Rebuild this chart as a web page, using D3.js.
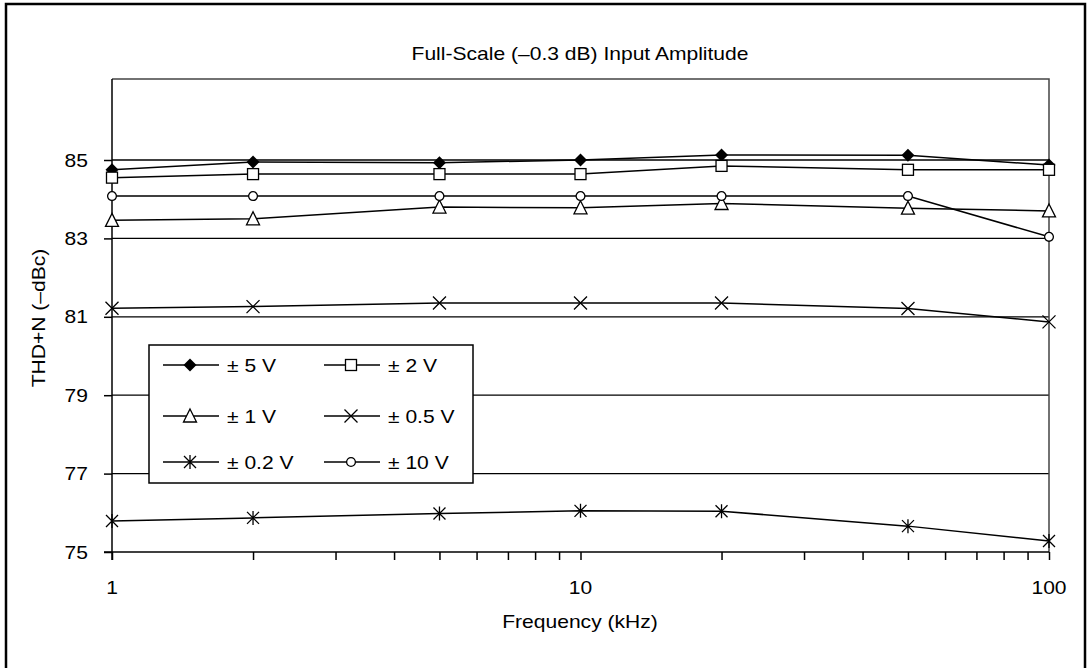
<!DOCTYPE html>
<html><head><meta charset="utf-8">
<script src="https://cdn.jsdelivr.net/npm/d3@7/dist/d3.min.js"></script>
<style>body{margin:0;background:#fff;}svg{display:block;font-family:"Liberation Sans",Arial,sans-serif;}</style>
</head><body><svg id="c" width="1088" height="668"></svg>
<script>
const freqs = [1, 2, 5, 10, 20, 50, 100];
const v5   = [84.75, 84.95, 84.93, 85.0, 85.13, 85.12, 84.87];
const v2   = [84.55, 84.64, 84.64, 84.64, 84.85, 84.75, 84.75];
const v1   = [83.46, 83.5, 83.8, 83.78, 83.89, 83.77, 83.7];
const v05  = [81.22, 81.26, 81.35, 81.35, 81.35, 81.21, 80.87];
const v02  = [75.79, 75.87, 75.98, 76.05, 76.04, 75.66, 75.28];
const v10  = [84.08, 84.08, 84.08, 84.08, 84.08, 84.08, 83.04];
const seriesNames = ["± 5 V", "± 2 V", "± 1 V", "± 0.5 V", "± 0.2 V", "± 10 V"];
const seriesValues = [v5, v2, v1, v05, v02, v10];
const seriesMarkers = ["diamond", "square", "triangle", "x", "asterisk", "circle"];
const yTicks = [75, 77, 79, 81, 83, 85];
const xTickLabels = [1, 10, 100];
const title = "Full-Scale (–0.3 dB) Input Amplitude";
const xTitle = "Frequency (kHz)";
const yTitle = "THD+N (–dBc)";

const svg = d3.select("#c");
const L = 112, R = 1049, T = 79, B = 552;
const SX = 1.17, FS = 18;
const x = d3.scaleLog().domain([1, 100]).range([L, R]);
const y = d3.scaleLinear().domain([75, 85]).range([552, 160]);

function label(px, py, txt, anchor, rot) {
  svg.append("text")
    .attr("transform", `translate(${px},${py})${rot ? " rotate(" + rot + ")" : ""} scale(${SX},1)`)
    .attr("text-anchor", anchor).attr("font-size", FS).attr("fill", "#000").text(txt);
}

// outer frame
svg.append("rect").attr("x", 6).attr("y", 4).attr("width", 1079).attr("height", 672)
  .attr("fill", "none").attr("stroke", "#000").attr("stroke-width", 2.5);

// gridlines
svg.append("g").selectAll("line").data(yTicks.filter(d => d > 75)).join("line")
  .attr("x1", L).attr("x2", R).attr("y1", d => y(d)).attr("y2", d => y(d))
  .attr("stroke", "#000").attr("stroke-width", 1.3);

// plot frame (top/right)
svg.append("path").attr("d", `M${L},${T}H${R}V${B}`).attr("fill", "none")
  .attr("stroke", "#444").attr("stroke-width", 1.5);

// x axis
const xAxis = d3.axisBottom(x).tickValues(d3.range(1,10).concat(d3.range(10,100,10)).concat([100]))
  .tickSize(8).tickFormat("");
const gx = svg.append("g").attr("transform", `translate(0,${B})`).call(xAxis);
gx.select(".domain").attr("d", `M${L-8},0H${R}`).attr("stroke-width", 1.5);
gx.selectAll(".tick line").attr("stroke-width", 1.5);
xTickLabels.forEach(d => label(x(d), 594, d, "middle"));

// y axis
const yAxis = d3.axisLeft(y).tickValues(yTicks).tickSize(8).tickFormat("");
const gy = svg.append("g").attr("transform", `translate(${L},0)`).call(yAxis);
gy.select(".domain").attr("d", `M0,${T}V${B + 8}`).attr("stroke-width", 1.5);
gy.selectAll(".tick line").attr("stroke-width", 1.5);
yTicks.forEach(d => label(88, y(d) + 6.5, d, "end"));

// titles
label(580, 60, title, "middle");
label(580, 628, xTitle, "middle");
label(45, 318, yTitle, "middle", -90);

function drawMarker(g, type) {
  const s = "#000";
  switch (type) {
    case "diamond":
      g.append("path").attr("d", "M0,-6.5L6.5,0L0,6.5L-6.5,0Z").attr("fill", s); break;
    case "square":
      g.append("rect").attr("x", -5.5).attr("y", -5.5).attr("width", 11).attr("height", 11)
        .attr("fill", "#fff").attr("stroke", s).attr("stroke-width", 1.3); break;
    case "triangle":
      g.append("path").attr("d", "M0,-7L6.5,6L-6.5,6Z").attr("fill", "#fff").attr("stroke", s).attr("stroke-width", 1.3); break;
    case "x":
      g.append("path").attr("d", "M-6.5,-6.5L6.5,6.5M-6.5,6.5L6.5,-6.5").attr("stroke", s).attr("stroke-width", 1.3); break;
    case "asterisk":
      g.append("path").attr("d", "M-6,-6L6,6M-6,6L6,-6M0,-7V7").attr("stroke", s).attr("stroke-width", 1.3); break;
    case "circle":
      g.append("circle").attr("r", 4.4).attr("fill", "#fff").attr("stroke", s).attr("stroke-width", 1.3); break;
  }
}

// lines & markers
const line = d3.line().x((d, i) => x(freqs[i])).y(d => y(d));
seriesValues.forEach((vals) => {
  svg.append("path").datum(vals).attr("d", line).attr("fill", "none")
    .attr("stroke", "#000").attr("stroke-width", 1.5);
});
seriesValues.forEach((vals, si) => {
  vals.forEach((v, i) => {
    const g = svg.append("g").attr("transform", `translate(${x(freqs[i])},${y(v)})`);
    drawMarker(g, seriesMarkers[si]);
  });
});

// legend
const lg = svg.append("g");
svg.append("rect").attr("x", 149).attr("y", 345).attr("width", 324).attr("height", 138)
  .attr("fill", "#fff").attr("stroke", "#000").attr("stroke-width", 1.5);
const colX = [163, 324], rowY = [365, 416, 462];
seriesNames.forEach((name, i) => {
  const cx = colX[i % 2], cy = rowY[Math.floor(i / 2)];
  svg.append("line").attr("x1", cx).attr("x2", cx + 56).attr("y1", cy).attr("y2", cy)
    .attr("stroke", "#000").attr("stroke-width", 1.5);
  const g = svg.append("g").attr("transform", `translate(${cx + 27},${cy})`);
  drawMarker(g, seriesMarkers[i]);
  label(cx + 64, cy + 6.5, name, "start");
});
</script></body></html>
